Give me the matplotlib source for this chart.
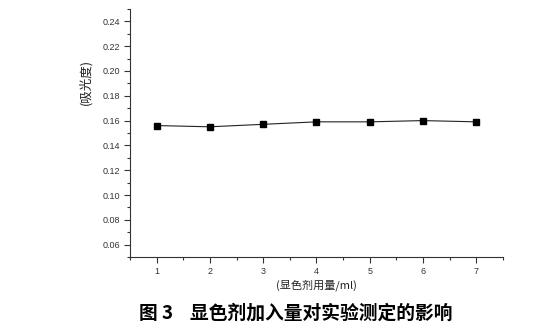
import matplotlib
matplotlib.use("Agg")
import matplotlib.pyplot as plt
from matplotlib.ticker import MultipleLocator

plt.rcParams["font.family"] = ["Noto Sans CJK SC", "DejaVu Sans"]

dosage = [1, 2, 3, 4, 5, 6, 7]
absorbance = [0.156, 0.155, 0.157, 0.159, 0.159, 0.160, 0.159]

fig = plt.figure(figsize=(5.43, 3.32), dpi=100)
ax = fig.add_axes([0.2394, 0.2259, 0.6869, 0.7470])

ax.plot(dosage, absorbance, color="#222222", linewidth=0.8,
        marker="s", markersize=5, markerfacecolor="black", markeredgecolor="black")

ax.set_xlim(0.5, 7.5)
ax.set_ylim(0.05, 0.25)
ax.xaxis.set_major_locator(MultipleLocator(1))
ax.xaxis.set_minor_locator(MultipleLocator(0.5))
ax.yaxis.set_minor_locator(MultipleLocator(0.01))
ax.set_yticks([0.06, 0.08, 0.10, 0.12, 0.14, 0.16, 0.18, 0.20, 0.22, 0.24])
ax.yaxis.set_major_formatter(plt.FuncFormatter(lambda v, p: f"{v:.2f}"))

for side in ("top", "right"):
    ax.spines[side].set_visible(False)
for side in ("left", "bottom"):
    ax.spines[side].set_color("#333333")
    ax.spines[side].set_linewidth(0.8)

ax.tick_params(which="major", direction="out", length=4, width=0.8, color="#333333",
               labelsize=6.5, labelcolor="#333333", pad=3)
ax.tick_params(which="minor", direction="out", length=2.5, width=0.8, color="#333333")
for lbl in ax.get_xticklabels() + ax.get_yticklabels():
    lbl.set_family(["Liberation Sans", "DejaVu Sans"])

ax.set_ylabel("(吸光度)", fontsize=9, color="#222222")
ax.yaxis.set_label_coords(-0.10, 0.705)
ax.set_xlabel("(显色剂用量/ml)", fontsize=8, color="#222222", labelpad=3)

fig.text(0.545, 0.057, "图 3    显色剂加入量对实验测定的影响", ha="center", va="center",
         fontsize=13.5, fontweight="bold", color="black")

fig.savefig("out.png", dpi=100)
